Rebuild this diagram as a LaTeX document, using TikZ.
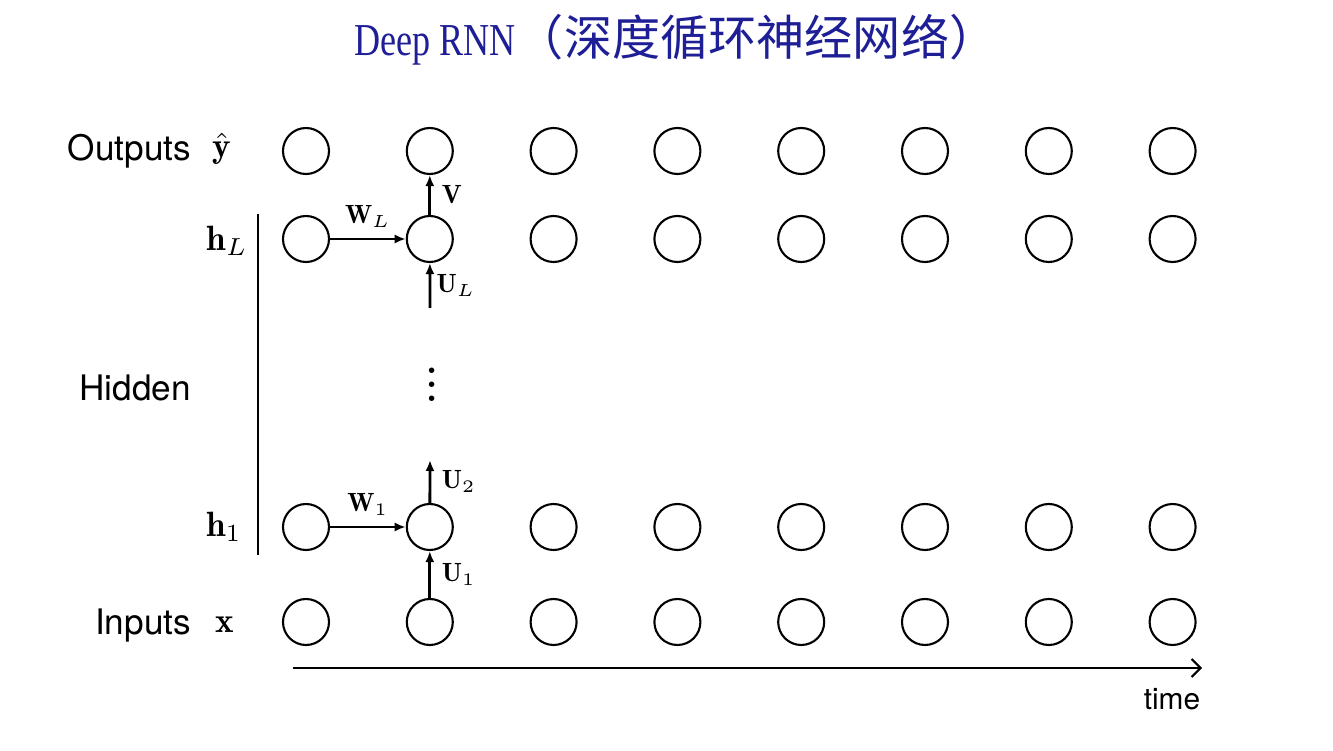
\documentclass[tikz,border=0pt]{standalone}
\usepackage{fontspec}
\setsansfont{TeX Gyre Heros}
\newfontfamily\cjk{Noto Sans CJK SC}
\newfontfamily\titlefont[FakeStretch=0.79]{Liberation Serif}
\usetikzlibrary{arrows.meta,positioning,calc}
\definecolor{titleblue}{RGB}{30,30,150}
\tikzset{every picture/.style={line width=0.6pt}}
\tikzset{
  unit/.style={draw, circle, minimum size=4.6mm, inner sep=0pt},
  rowlabel/.style={font=\sffamily\fontsize{10}{12}\selectfont, inner sep=0pt},
  arrlabel/.style={font=\fontsize{7.5}{9}\selectfont, inner sep=3pt},
  conn/.style={-{Latex[length=1.1mm,width=0.9mm]}, line width=0.8pt},
}

\begin{document}
\begin{tikzpicture}
    \useasboundingbox (0,0) rectangle (13.33,7.5);

    % title
    \node[text=titleblue] (title) at (6.76,7.10)
        {{\titlefont\fontsize{13}{15}\selectfont Deep RNN}{\cjk\fontsize{13.7}{16}\selectfont （深度循环神经网络）}};

    % units over time
    \foreach \i in {1,...,8} {
        \pgfmathsetmacro{\xx}{3.06+1.238*(\i-1)}
        \node[unit] (out\i) at (\xx,5.99) {};
        \node[unit] (top\i) at (\xx,5.11) {};
        \node[unit] (bot\i) at (\xx,2.23) {};
        \node[unit] (in\i) at (\xx,1.28) {};
    }

    % row labels
    \node[rowlabel, anchor=east] (outlbl) at (1.92,5.99) {Outputs};
    \node (yhat) at (2.22,6.01) {$\hat{\mathbf{y}}$};
    \node (hL) at (2.27,5.09) {$\mathbf{h}_L$};
    \node[rowlabel, anchor=east] (hidlbl) at (1.92,3.62) {Hidden};
    \node (hone) at (2.24,2.23) {$\mathbf{h}_1$};
    \node[rowlabel, anchor=east] (inlbl) at (1.92,1.24) {Inputs};
    \node (xin) at (2.25,1.25) {$\mathbf{x}$};

    % bracket for hidden layers
    \coordinate (spanTop) at (2.58,5.36);
    \coordinate (spanBot) at (2.58,1.95);
    \draw[line width=0.5pt] (spanTop) -- (spanBot);

    % connections
    \draw[conn] (top2) -- node[right, arrlabel] {$\mathbf{V}$} (out2);
    \draw[conn] (top1) -- node[above, arrlabel] {$\mathbf{W}_L$} (top2);
    \coordinate (uLfoot) at (4.30,4.42);
    \draw[conn] (uLfoot) -- node[right, arrlabel, inner sep=1.5pt] {$\mathbf{U}_L$} (top2);
    \node (dots) at (4.32,3.76) {\bfseries\vdots};
    \coordinate (utwotip) at (4.30,2.90);
    \draw[conn] (bot2) -- node[right, arrlabel] {$\mathbf{U}_2$} (utwotip);
    \draw[conn] (bot1) -- node[above, arrlabel] {$\mathbf{W}_1$} (bot2);
    \draw[conn] (in2) -- node[right, arrlabel] {$\mathbf{U}_1$} (bot2);

    % time axis
    \coordinate (tstart) at (2.93,0.82);
    \coordinate (tend) at (12.02,0.82);
    \draw[-{Straight Barb[length=0.9mm,width=1.8mm]}] (tstart) -- (tend);
    \node[rowlabel, font=\sffamily\fontsize{8.5}{10}\selectfont] (timelbl) at (11.72,0.51) {time};
\end{tikzpicture}
\end{document}
